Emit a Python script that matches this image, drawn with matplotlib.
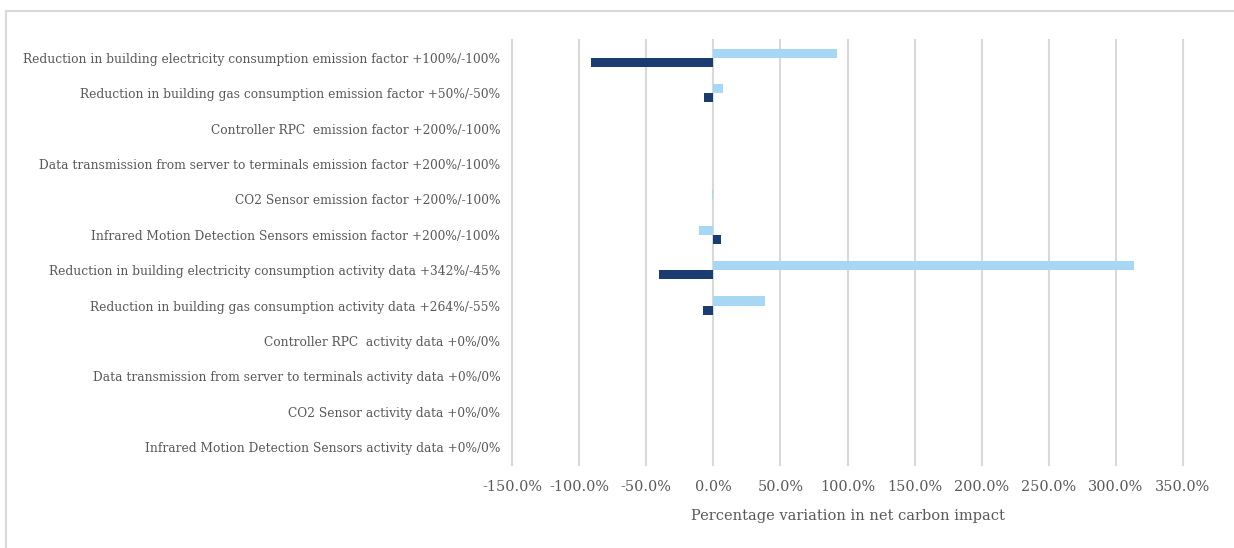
"""
Sensitivity analysis: percentage variation in net carbon impact per parameter
"""
import matplotlib.pyplot as plt
from matplotlib.patches import Rectangle
from matplotlib.ticker import FuncFormatter
import numpy as np

categories = [
    "Reduction in building electricity consumption emission factor +100%/-100%",
    "Reduction in building gas consumption emission factor +50%/-50%",
    "Controller RPC  emission factor +200%/-100%",
    "Data transmission from server to terminals emission factor +200%/-100%",
    "CO2 Sensor emission factor +200%/-100%",
    "Infrared Motion Detection Sensors emission factor +200%/-100%",
    "Reduction in building electricity consumption activity data +342%/-45%",
    "Reduction in building gas consumption activity data +264%/-55%",
    "Controller RPC  activity data +0%/0%",
    "Data transmission from server to terminals activity data +0%/0%",
    "CO2 Sensor activity data +0%/0%",
    "Infrared Motion Detection Sensors activity data +0%/0%",
]

# upper bound (light) and lower bound (dark) results, in %
upper_values = [92.4, 7.4, 0.0, 0.0, -1.2, -10.7, 313.7, 38.2, 0.0, 0.0, 0.0, 0.0]
lower_values = [-91.2, -7.0, 0.0, 0.0, 0.1, 5.7, -40.5, -7.8, 0.0, 0.0, 0.0, 0.0]

x_ticks = [-150, -100, -50, 0, 50, 100, 150, 200, 250, 300, 350]

LIGHT = '#A6D8F5'
DARK = '#1A3C70'
GRID = '#D9D9D9'
TEXT = '#595959'

plt.rcParams['font.family'] = ['DejaVu Serif']

fig = plt.figure(figsize=(12.34, 5.48), dpi=100)
ax = fig.add_axes([512 / 1234, 1 - 465 / 548, (1183 - 512) / 1234, (465 - 40) / 548])

# light grey frame around the whole chart
fig.patches.append(Rectangle((6 / 1234, -0.1), 1.2, 1 - 11 / 548 + 0.1,
                             transform=fig.transFigure, fill=False,
                             edgecolor='#D9D9D9', linewidth=1.5, zorder=0))

y = np.arange(len(categories))
h = 0.26
ax.barh(y - h / 2, upper_values, height=h, color=LIGHT, zorder=3)
ax.barh(y + h / 2, lower_values, height=h, color=DARK, zorder=3)

ax.set_xlim(-150, 350)
ax.set_ylim(len(categories) - 0.5, -0.5)
ax.set_xticks(x_ticks)
ax.xaxis.set_major_formatter(FuncFormatter(lambda v, p: f"{v:.1f}%"))
ax.set_yticks(y)
ax.set_yticklabels(categories)

ax.grid(axis='x', color=GRID, linewidth=1.5, zorder=0)
# keep the outermost gridlines at full width
for gl in ax.get_xgridlines():
    gl.set_clip_on(False)
for s in ax.spines.values():
    s.set_visible(False)
ax.tick_params(axis='both', length=0, colors=TEXT)
ax.tick_params(axis='y', pad=8.5, labelsize=8.85)
ax.tick_params(axis='x', pad=10.5, labelsize=10.4)

ax.set_xlabel('Percentage variation in net carbon impact', color=TEXT,
              fontsize=10.5, labelpad=11)

fig.savefig('out.png', dpi=100)
